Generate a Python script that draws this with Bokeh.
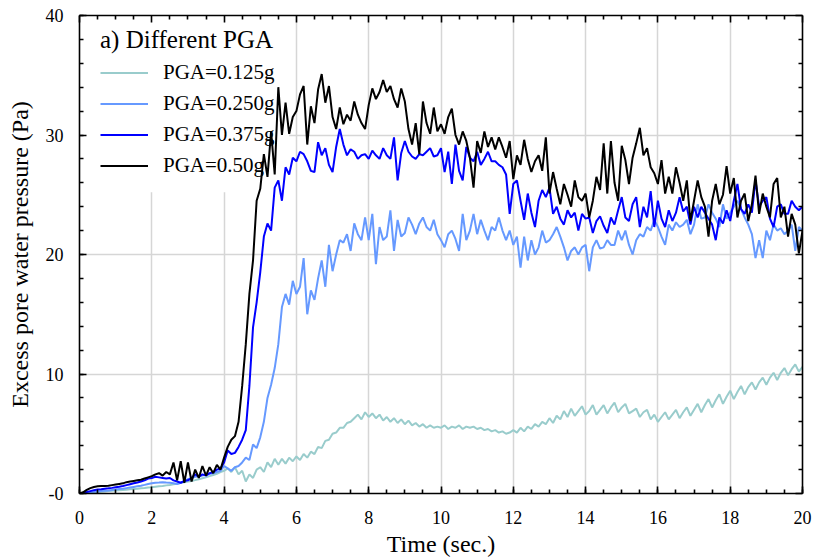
import numpy as np
from bokeh.plotting import figure
from bokeh.models import LinearAxis, Legend, LegendItem, BoxAnnotation, FixedTicker, Range1d
from bokeh.embed import file_html
from bokeh.resources import INLINE

# ---------------- data (0.1 s sampling) ----------------
time_s = np.round(np.linspace(0.0, 20.0, 201), 1)

pga_0125 = [
    0.0, 0.02, 0.05, 0.08, 0.1, 0.12, 0.15, 0.17, 0.2, 0.22,
    0.25, 0.27, 0.3, 0.32, 0.35, 0.38, 0.4, 0.43, 0.46, 0.5,
    0.52, 0.56, 0.6, 0.63, 0.68, 0.72, 0.78, 0.82, 0.9, 0.95,
    1.0, 1.05, 1.12, 1.2, 1.28, 1.35, 1.45, 1.55, 1.65, 1.8,
    1.9, 2.1, 1.8, 2.2, 1.6, 1.9, 1.0, 1.6, 1.3, 2.0,
    2.2, 1.8, 2.6, 2.2, 2.9, 2.4, 2.9, 2.5, 3.0, 2.7,
    3.1, 2.8, 3.3, 3.0, 3.5, 3.3, 3.9, 3.8, 4.4, 4.5,
    5.0, 5.1, 5.5, 5.5, 5.9, 6.0, 6.3, 6.6, 6.2, 6.8,
    6.4, 6.7, 6.3, 6.6, 6.1, 6.4, 6.0, 6.3, 5.9, 6.2,
    5.8, 6.1, 5.7, 5.9, 5.6, 5.8, 5.5, 5.7, 5.5, 5.6,
    5.5, 5.7, 5.4, 5.6, 5.5, 5.7, 5.4, 5.6, 5.5, 5.6,
    5.4, 5.5, 5.3, 5.4, 5.2, 5.3, 5.1, 5.2, 5.0, 5.1,
    5.3, 5.1, 5.5, 5.2, 5.6, 5.4, 5.8, 5.6, 6.0, 5.8,
    6.3, 5.9, 6.5, 6.2, 6.9, 6.4, 7.1, 6.5, 6.9, 7.3,
    6.6, 6.9, 7.4, 6.6, 7.0, 7.4, 6.7, 7.2, 7.6, 6.8,
    7.2, 7.5, 6.7, 6.9, 7.1, 6.4, 6.8, 7.0, 6.2, 6.6,
    6.0, 6.4, 6.8, 6.2, 6.6, 7.0, 6.3, 6.8, 7.2, 6.5,
    7.0, 7.5, 6.8, 7.4, 7.9, 7.2, 7.8, 8.3, 7.5, 8.1,
    8.6, 7.9, 8.5, 9.0, 8.3, 8.9, 9.3, 8.7, 9.3, 9.7,
    9.1, 9.7, 10.1, 9.5, 10.1, 10.5, 9.9, 10.4, 10.8, 10.2,
    10.6,
]

pga_0250 = [
    0.0, 0.03, 0.07, 0.1, 0.14, 0.17, 0.2, 0.23, 0.26, 0.3,
    0.33, 0.37, 0.4, 0.45, 0.5, 0.55, 0.6, 0.65, 0.72, 0.8,
    0.85, 0.9, 0.92, 0.95, 0.92, 0.9, 0.85, 0.8, 0.9, 1.0,
    1.2, 1.3, 1.4, 1.45, 1.5, 1.6, 1.65, 1.7, 1.8, 1.9,
    2.3, 2.1, 1.9, 2.2, 2.3, 2.6, 3.0, 2.8, 4.1, 3.8,
    4.7, 6.0, 8.0, 9.1, 10.5, 12.5, 15.6, 16.7, 15.8, 17.8,
    16.7, 17.3, 19.7, 15.0, 17.0, 16.2, 18.0, 19.5, 17.3, 20.8,
    18.6, 20.0, 21.2, 21.0, 21.7, 20.3, 22.6, 21.7, 21.2, 23.1,
    21.2, 23.4, 19.2, 22.3, 21.2, 21.5, 23.7, 20.3, 22.9, 21.5,
    21.8, 23.1, 22.5, 21.7, 22.6, 23.1, 22.3, 22.0, 22.9, 21.7,
    21.2, 20.6, 21.7, 22.0, 21.3, 20.3, 23.4, 21.2, 22.0, 23.4,
    21.7, 22.9, 22.0, 21.2, 22.3, 22.0, 23.1, 22.0, 21.2, 22.0,
    20.8, 21.5, 18.9, 21.5, 19.5, 21.2, 20.0, 20.6, 22.0, 21.0,
    21.2, 21.7, 22.3, 21.5, 20.6, 19.5, 20.3, 20.6, 20.0, 20.6,
    20.8, 18.6, 20.6, 21.2, 20.5, 20.6, 21.2, 20.8, 20.8, 22.0,
    21.2, 22.0, 20.8, 20.0, 21.2, 21.7, 21.5, 22.3, 22.0, 22.9,
    22.3, 21.5, 20.8, 22.5, 22.0, 22.7, 22.3, 22.5, 22.9, 21.7,
    22.5, 24.2, 23.0, 23.1, 24.2, 23.5, 23.0, 22.3, 24.2, 23.0,
    23.5, 24.0, 24.5, 23.8, 23.1, 22.5, 21.7, 19.7, 21.2, 19.7,
    22.0, 21.2, 22.5, 22.0, 22.2, 21.7, 22.0, 22.5, 20.3, 22.3,
    22.0,
]

pga_0375 = [
    0.0, 0.05, 0.12, 0.2, 0.28, 0.33, 0.36, 0.4, 0.43, 0.47,
    0.52, 0.56, 0.62, 0.7, 0.78, 0.85, 0.92, 1.0, 1.1, 1.25,
    1.3, 1.4, 1.35, 1.3, 1.25, 1.3, 1.1, 1.0, 0.9, 1.05,
    1.1, 1.3, 1.6, 1.4, 1.6, 1.5, 1.7, 1.8, 2.0, 2.1,
    2.6, 3.6, 3.3, 3.4, 3.9, 4.5, 5.3, 9.0, 13.9, 16.0,
    18.5, 21.5, 22.6, 22.0, 25.6, 26.2, 24.5, 27.3, 26.7, 28.1,
    27.8, 28.6, 28.4, 27.8, 27.0, 26.9, 29.4, 28.3, 28.9, 27.5,
    26.9, 29.0, 30.5, 29.2, 28.3, 28.8, 28.6, 28.0, 28.3, 28.4,
    28.0, 28.7, 28.3, 28.0, 28.9, 28.3, 28.0, 29.8, 26.2, 28.5,
    29.5, 28.6, 28.2, 28.0, 28.4, 28.3, 28.6, 28.9, 28.2, 28.3,
    28.9, 26.9, 28.6, 25.9, 29.2, 27.0, 26.2, 29.0, 28.1, 27.8,
    28.6, 27.5, 28.0, 28.6, 27.8, 27.8, 27.5, 27.3, 26.7, 23.4,
    25.9, 26.2, 24.5, 22.9, 25.1, 23.5, 22.3, 24.5, 25.4, 24.8,
    25.6, 23.4, 24.0, 23.0, 22.5, 23.7, 23.1, 23.5, 22.0, 23.4,
    23.0, 23.1, 21.8, 22.8, 23.2, 22.4, 21.8, 23.1, 22.5, 23.7,
    24.8, 23.1, 22.8, 24.2, 24.8, 22.3, 24.0, 23.1, 25.3, 22.3,
    24.5, 23.0, 22.3, 23.7, 22.8, 23.5, 24.8, 23.6, 24.0, 22.5,
    24.0, 23.1, 24.0, 23.5, 23.0, 22.5, 21.2, 23.1, 22.6, 23.7,
    22.8, 24.5, 25.9, 23.8, 23.4, 24.2, 23.5, 26.2, 24.0, 24.5,
    24.8, 23.0, 22.3, 24.0, 24.2, 23.4, 23.4, 24.5, 24.0, 23.7,
    24.0,
]

pga_0500 = [
    0.0, 0.1, 0.3, 0.45, 0.55, 0.6, 0.62, 0.63, 0.65, 0.7,
    0.75, 0.8, 0.85, 0.95, 1.0, 1.05, 1.1, 1.15, 1.25, 1.35,
    1.45, 1.6, 1.7, 1.5, 1.8, 1.6, 2.6, 1.1, 2.7, 0.9,
    2.6, 1.0, 2.0, 1.3, 2.3, 1.5, 2.2, 1.7, 2.4, 2.0,
    3.0, 3.9, 4.5, 4.8, 6.0, 9.0, 12.5, 16.7, 19.5, 24.5,
    25.5, 28.4, 26.5, 30.3, 26.7, 34.0, 30.0, 32.7, 30.1, 31.5,
    32.0, 33.4, 34.1, 29.2, 32.4, 31.0, 33.8, 35.1, 32.7, 34.1,
    31.5, 30.5, 32.3, 30.9, 31.7, 31.2, 32.8, 31.7, 31.0, 30.5,
    32.5, 33.9, 33.0, 33.6, 34.6, 33.6, 34.1, 33.0, 32.3, 33.9,
    32.8, 30.5, 29.2, 31.0, 28.4, 32.8, 31.0, 30.1, 32.3, 30.3,
    30.9, 30.1, 31.5, 32.2, 30.0, 29.2, 30.3, 29.5, 28.1, 25.6,
    29.5, 28.5, 30.3, 29.0, 29.8, 28.8, 29.8, 29.0, 28.1, 29.5,
    26.3, 28.3, 27.5, 29.6, 28.0, 26.9, 27.8, 28.3, 27.0, 29.8,
    25.1, 26.9, 25.5, 24.2, 25.9, 25.0, 24.0, 26.2, 24.8, 24.5,
    25.1, 23.1, 24.5, 26.5, 25.4, 29.3, 25.1, 29.5, 26.0, 24.5,
    29.1, 27.9, 25.9, 28.1, 29.3, 30.6, 28.3, 28.9, 27.3, 26.8,
    25.9, 27.9, 25.1, 26.5, 25.1, 27.3, 26.0, 24.5, 26.2, 22.8,
    24.5, 26.2, 24.8, 24.0, 21.5, 24.5, 25.9, 24.2, 25.0, 27.4,
    25.1, 26.4, 23.1, 24.5, 25.1, 22.8, 24.2, 26.6, 23.4, 25.1,
    24.0, 23.1, 25.9, 26.4, 23.1, 24.0, 21.5, 23.4, 22.5, 20.1,
    22.0,
]

series_values = [pga_0125, pga_0250, pga_0375, pga_0500]
series_labels = ["PGA=0.125g", "PGA=0.250g", "PGA=0.375g", "PGA=0.50g"]
series_colors = ["#99CCCC", "#6699FF", "#0000FF", "#000000"]
legend_title = "a) Different PGA"

x_ticks = [0, 2, 4, 6, 8, 10, 12, 14, 16, 18, 20]
y_ticks = [0, 10, 20, 30, 40]
y_tick_labels = {0: "-0", 10: "10", 20: "20", 30: "30", 40: "40"}

FONT = "Liberation Serif"

# ---------------- figure ----------------
p = figure(width=813, height=560, output_backend="svg", toolbar_location=None,
           x_range=Range1d(0, 20), y_range=Range1d(0, 40),
           min_border_left=79, min_border_right=11, min_border_top=15, min_border_bottom=67,
           x_axis_label="Time (sec.)", y_axis_label="Excess pore water pressure (Pa)")
p.outline_line_color = None
p.background_fill_color = "white"
p.border_fill_color = "white"

bottom_ax = p.below[0]
left_ax = p.left[0]

x_all_minor = np.arange(0, 20.01, 0.5).round(2).tolist()
y_all_minor = np.arange(0, 40.01, 2).round(2).tolist()
x_minor_only = [v for v in x_all_minor if v not in x_ticks]
y_minor_only = [v for v in y_all_minor if v not in y_ticks]


def base_style(ax):
    ax.major_tick_out = 0
    ax.minor_tick_out = 0
    ax.major_tick_in = 7
    ax.minor_tick_in = 4
    ax.axis_line_width = 1.6
    ax.axis_line_color = "black"
    ax.major_tick_line_width = 1.6
    ax.minor_tick_line_width = 1.6
    ax.major_tick_line_color = "black"
    ax.minor_tick_line_color = "black"
    ax.major_label_text_font = FONT
    ax.major_label_text_font_size = "18px"
    ax.major_label_text_color = "black"
    ax.axis_label_text_font = FONT
    ax.axis_label_text_font_style = "normal"
    ax.axis_label_text_font_size = "24px"
    ax.axis_label_text_color = "black"


# labelled axes (bottom / left)
bottom_ax.ticker = FixedTicker(ticks=x_ticks, minor_ticks=x_all_minor)
left_ax.ticker = FixedTicker(ticks=y_ticks, minor_ticks=y_all_minor)
base_style(bottom_ax)
base_style(left_ax)
bottom_ax.major_label_standoff = 17
bottom_ax.axis_label_standoff = 4
left_ax.major_label_standoff = 16
left_ax.axis_label_standoff = 10
left_ax.major_label_overrides = y_tick_labels


# mirror tick axes (top / right) without labels: long ticks and short ticks
def mirror_axis(positions, length, line):
    ax = LinearAxis(ticker=FixedTicker(ticks=[], minor_ticks=positions))
    base_style(ax)
    ax.major_label_standoff = 0
    ax.minor_tick_in = length
    ax.axis_line_alpha = 1.0 if line else 0.0
    return ax


p.add_layout(mirror_axis(x_ticks, 7, True), "above")
p.add_layout(mirror_axis(x_minor_only, 4, False), "above")
p.add_layout(mirror_axis(y_ticks, 7, True), "right")
p.add_layout(mirror_axis(y_minor_only, 4, False), "right")

p.xgrid.ticker = FixedTicker(ticks=x_ticks)
p.ygrid.ticker = FixedTicker(ticks=y_ticks)
p.grid.grid_line_color = "#d6d6d6"
p.grid.grid_line_width = 1.5

# white area behind the legend hides the grid there
legend_bg = BoxAnnotation(left=0, right=5.8, bottom=25.2, top=40,
                          fill_color="white", fill_alpha=1.0, line_alpha=0.0,
                          level="underlay")
p.add_layout(legend_bg)

renderers = []
for vals, col in zip(series_values, series_colors):
    assert len(vals) == len(time_s), len(vals)
    r = p.line(time_s, vals, line_color=col, line_width=2.0)
    renderers.append(r)

legend = Legend(items=[LegendItem(label=lab, renderers=[r]) for lab, r in zip(series_labels, renderers)],
                title=legend_title, location=(21, 315))
legend.background_fill_alpha = 0.0
legend.border_line_alpha = 0.0
legend.padding = 0
legend.margin = 0
legend.title_text_font = FONT
legend.title_text_font_size = "25px"
legend.title_text_font_style = "normal"
legend.title_text_color = "black"
legend.title_standoff = 6
legend.label_text_font = FONT
legend.label_text_font_size = "21px"
legend.label_text_color = "black"
legend.glyph_width = 48
legend.glyph_height = 21
legend.label_height = 21
legend.label_standoff = 15
legend.spacing = 6
p.add_layout(legend)

open("out.html", "w").write(file_html(p, INLINE))
